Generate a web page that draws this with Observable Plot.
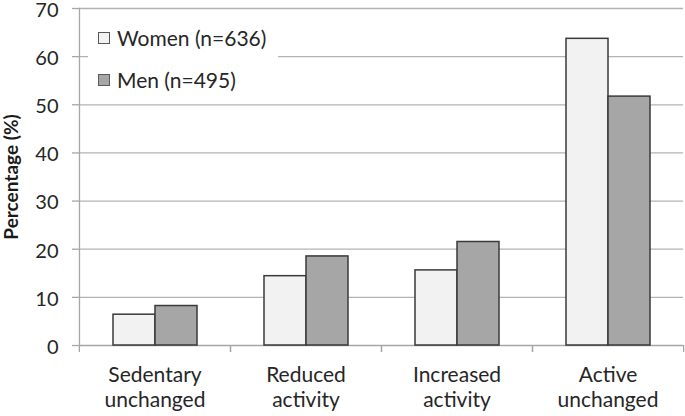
<!DOCTYPE html>
<html>
<head>
<meta charset="utf-8">
<script src="https://cdn.jsdelivr.net/npm/d3@7"></script>
<script src="https://cdn.jsdelivr.net/npm/@observablehq/plot@0.6"></script>
<style>
  html, body { margin: 0; padding: 0; background: #fff; }
  #wrap { position: relative; width: 685px; height: 416px; font-family: Lato, "Open Sans", sans-serif; color: #262626; }
  #legend { position: absolute; left: 88px; top: 17px; width: 190px; height: 80px; background: #fff; }
  .row { position: absolute; left: 10px; display: flex; align-items: center; font-size: 21px; line-height: 1; white-space: nowrap; }
  .sw { width: 10px; height: 10px; border: 1px solid #595959; margin-right: 7px; }
  .ylab text { letter-spacing: 1.6px; }
</style>
</head>
<body>
<div id="wrap"></div>
<script>
const categories = ["Sedentary\nunchanged", "Reduced\nactivity", "Increased\nactivity", "Active\nunchanged"];
const groups = ["Women", "Men"];
const groupLabels = ["Women (n=636)", "Men (n=495)"];
const women = [6.4, 14.4, 15.6, 63.7];
const men = [8.2, 18.5, 21.5, 51.7];
const yTicks = [0, 10, 20, 30, 40, 50, 60, 70];
const colors = ["#f2f2f2", "#a6a6a6"];

const data = categories.flatMap((c, i) => [
  {cat: c, group: groups[0], value: women[i]},
  {cat: c, group: groups[1], value: men[i]}
]);

const W = 685, H = 416, mL = 78, mR = 2, mT = 8, mB = 71;
const step = (W - mL - mR) / categories.length;

const chart = Plot.plot({
  width: W, height: H,
  marginLeft: mL, marginRight: mR, marginTop: mT, marginBottom: mB,
  style: {fontFamily: "Lato, 'Open Sans', sans-serif", fontSize: "20px", color: "#262626", background: "#fff", overflow: "visible"},
  fx: {domain: categories, padding: 0, label: null},
  x: {domain: groups, paddingInner: 0, paddingOuter: 0.756, axis: null},
  y: {domain: [0, 70], label: null},
  color: {domain: groups, range: colors},
  marks: [
    Plot.gridY(yTicks.slice(1), {stroke: "#b3b3b3", strokeOpacity: 1, strokeWidth: 1.3}),
    Plot.ruleY([0], {stroke: "#a6a6a6", strokeWidth: 1.3}),
    Plot.barY(data, {fx: "cat", x: "group", y: "value", fill: "group", stroke: "#3a3a3a", strokeWidth: 1.5}),
    Plot.frame({anchor: "left", facetAnchor: "left", stroke: "#a6a6a6", strokeWidth: 1.3}),
    Plot.axisY({ticks: yTicks, tickSize: 7, text: null, stroke: "#a6a6a6", strokeWidth: 1.3, label: null}),
    Plot.axisY({ticks: yTicks, tickSize: 0, tickPadding: 21, dy: 2, fill: "#262626", fontSize: 20, label: null}),
    Plot.axisY({ticks: [], tickSize: 0, label: "Percentage (%)", labelAnchor: "center", labelArrow: "none", labelOffset: 75, fontWeight: "bold", fontSize: 19, fill: "#1a1a1a", className: "ylab"}),
    Plot.axisFx({anchor: "bottom", tickSize: 0, tickPadding: 19, lineHeight: 1.19, fontSize: 21, fill: "#262626", label: null}),
    Plot.axisFx({anchor: "bottom", tickSize: 7, text: null, dx: -step / 2, stroke: "#a6a6a6", strokeWidth: 1.3, label: null}),
    Plot.axisFx([categories[categories.length - 1]], {anchor: "bottom", tickSize: 7, text: null, dx: step / 2, stroke: "#a6a6a6", strokeWidth: 1.3, label: null})
  ]
});

const wrap = document.getElementById("wrap");
wrap.appendChild(chart);

const legend = document.createElement("div");
legend.id = "legend";
groupLabels.forEach((lab, i) => {
  const row = document.createElement("div");
  row.className = "row";
  row.style.top = (10 + i * 42) + "px";
  const sw = document.createElement("span");
  sw.className = "sw";
  sw.style.background = colors[i];
  const t = document.createElement("span");
  t.textContent = lab;
  row.appendChild(sw);
  row.appendChild(t);
  legend.appendChild(row);
});
wrap.appendChild(legend);
</script>
</body>
</html>
